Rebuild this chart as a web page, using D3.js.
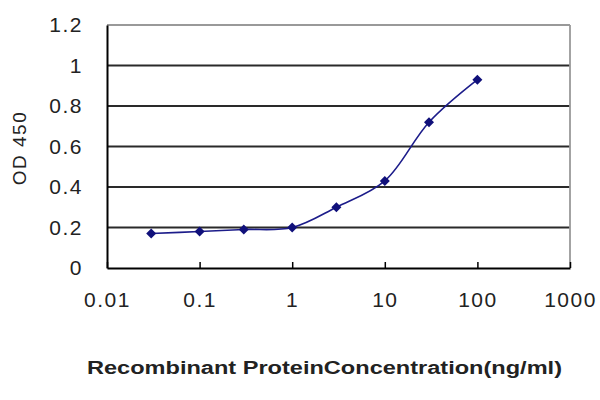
<!DOCTYPE html>
<html><head><meta charset="utf-8">
<script src="https://cdn.jsdelivr.net/npm/d3@7"></script>
<style>body{margin:0;background:#fff}svg{display:block}</style>
</head><body>
<svg id="c" width="600" height="400"></svg>
<script>
const concentrations = [0.03, 0.1, 0.3, 1, 3, 10, 30, 100];
const odValues = [0.17, 0.18, 0.19, 0.20, 0.30, 0.43, 0.72, 0.93];
const xTicks = [0.01, 0.1, 1, 10, 100, 1000];
const xTickLabels = ["0.01", "0.1", "1", "10", "100", "1000"];
const yTicks = [0, 0.2, 0.4, 0.6, 0.8, 1, 1.2];
const yTickLabels = ["0", "0.2", "0.4", "0.6", "0.8", "1", "1.2"];
const xTitle = "Recombinant ProteinConcentration(ng/ml)";
const yTitle = "OD 450";

const svg = d3.select("#c");
const L = 107, R = 570, T = 25, B = 268;
const x = d3.scaleLog().domain([0.01, 1000]).range([L, R]);
const y = d3.scaleLinear().domain([0, 1.2]).range([B, T]);
const font = "'Liberation Sans', Arial, sans-serif";

// gridlines
svg.append("g").selectAll("line").data(yTicks.filter(v => v > 0 && v < 1.2)).join("line")
  .attr("x1", L).attr("x2", R).attr("y1", d => y(d)).attr("y2", d => y(d))
  .attr("stroke", "#2a2a2a").attr("stroke-width", 1.8);
// top & right border
svg.append("line").attr("x1", L).attr("x2", R).attr("y1", T).attr("y2", T).attr("stroke", "#999").attr("stroke-width", 1.8);
svg.append("line").attr("x1", R).attr("x2", R).attr("y1", T).attr("y2", B).attr("stroke", "#999").attr("stroke-width", 1.8);

// axes
const xAxis = d3.axisBottom(x).tickValues(xTicks).tickFormat((d, i) => xTickLabels[i]).tickSizeInner(-6).tickSizeOuter(0).tickPadding(20);
const gx = svg.append("g").attr("transform", `translate(0,${B})`).call(xAxis);
gx.select(".domain").attr("stroke", "#000").attr("stroke-width", 2);
gx.selectAll(".tick line").attr("stroke", "#000").attr("stroke-width", 1.5);
gx.selectAll(".tick text").attr("font-family", font).attr("font-size", 21).attr("letter-spacing", 1.5).attr("fill", "#222").attr("dy", "0.9em");

const yAxis = d3.axisLeft(y).tickValues(yTicks).tickFormat((d, i) => yTickLabels[i]).tickSize(0).tickPadding(24);
const gy = svg.append("g").attr("transform", `translate(${L},0)`).call(yAxis);
gy.select(".domain").attr("stroke", "#000").attr("stroke-width", 2);
gy.selectAll(".tick text").attr("font-family", font).attr("font-size", 21).attr("letter-spacing", 1.5).attr("fill", "#222");

// line
const pts = concentrations.map((c, i) => [c, odValues[i]]);
const line = d3.line().x(d => x(d[0])).y(d => y(d[1])).curve(d3.curveCatmullRom.alpha(0.5));
svg.append("path").datum(pts).attr("d", line).attr("fill", "none").attr("stroke", "#1c1c8a").attr("stroke-width", 1.6);
svg.append("g").selectAll("path").data(pts).join("path")
  .attr("d", d3.symbol(d3.symbolSquare, 50))
  .attr("transform", d => `translate(${x(d[0])},${y(d[1])}) rotate(45)`)
  .attr("fill", "#10107a");

// titles
svg.append("text").attr("x", 87).attr("y", 374).attr("font-family", font).attr("font-size", 18).attr("font-weight", "bold")
  .attr("fill", "#222").attr("textLength", 475).attr("lengthAdjust", "spacingAndGlyphs").text(xTitle);
svg.append("text").attr("transform", "translate(26,148) rotate(-90)").attr("text-anchor", "middle")
  .attr("font-family", font).attr("font-size", 19).attr("letter-spacing", 1.5).attr("fill", "#222").text(yTitle);
</script>
</body></html>
